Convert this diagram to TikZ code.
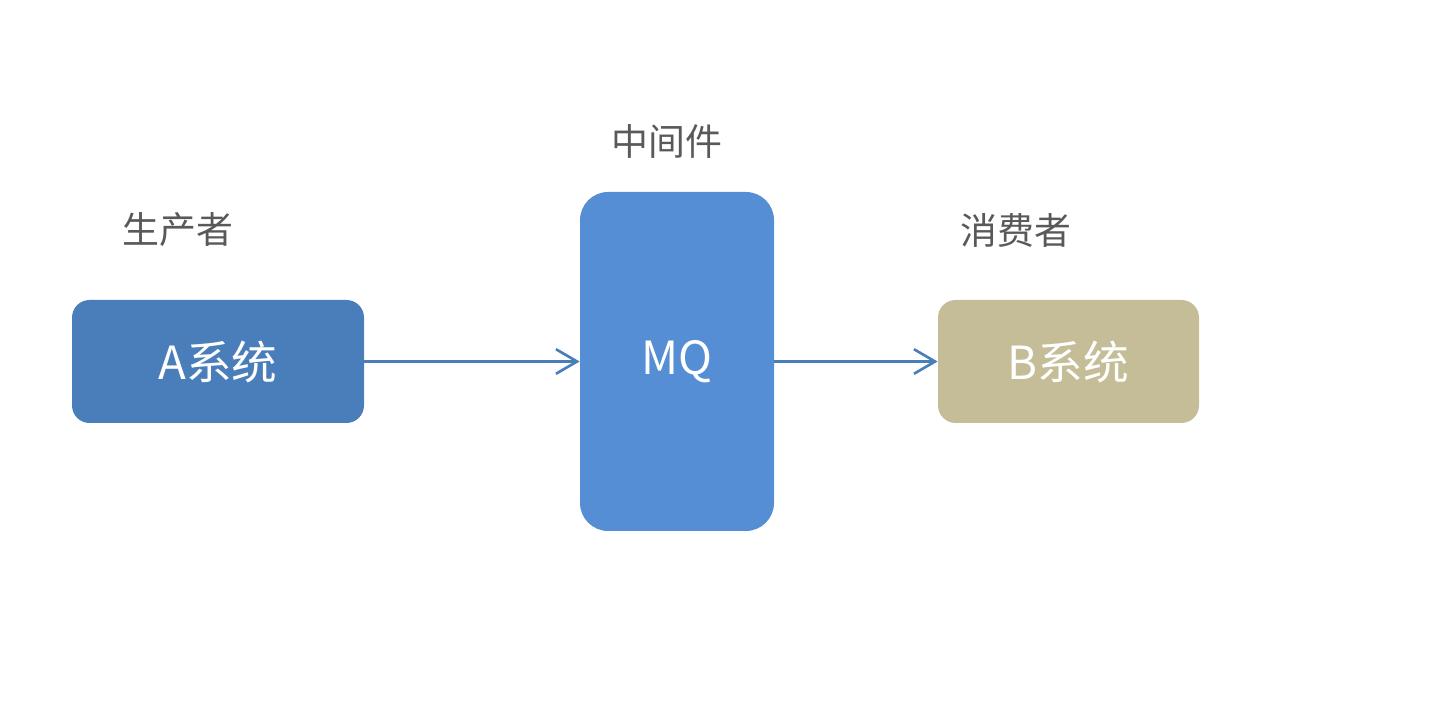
\documentclass[tikz,border=0pt]{standalone}
\usepackage{fontspec}
\setmainfont{Noto Sans CJK SC}
\usepackage{xcolor}
\definecolor{sysblue}{HTML}{4A7EBB}
\definecolor{mqblue}{HTML}{558ED5}
\definecolor{systan}{HTML}{C4BD97}
\definecolor{labelgray}{HTML}{595959}
\usetikzlibrary{arrows.meta,positioning}
\tikzset{
  sysnode/.style={
    rectangle, rounded corners=10pt, draw=none,
    text=white, align=center, inner sep=0pt,
    font=\fontsize{26}{30}\selectfont
  },
  rolelabel/.style={text=labelgray, inner sep=0pt, font=\fontsize{21}{25}\selectfont},
  arrow/.style={-{Straight Barb[length=12pt,width=14pt,line width=1.5pt]}, line width=1.5pt, draw=sysblue}
}

\begin{document}
\begin{tikzpicture}[x=0.02cm,y=0.02cm]
  \useasboundingbox (0,0) rectangle (1450,706);

  \node[sysnode, fill=sysblue, minimum width=292*0.02cm, minimum height=123*0.02cm] (asys) at (218,344.5) {A系统};
  \node[sysnode, fill=mqblue, rounded corners=16pt, minimum width=194*0.02cm, minimum height=339*0.02cm] (mq) at (677,344.5) {MQ};
  \node[sysnode, fill=systan, minimum width=261*0.02cm, minimum height=123*0.02cm] (bsys) at (1068.5,344.5) {B系统};

  \node[rolelabel] (producer) at (178,476) {生产者};
  \node[rolelabel] (middleware) at (667,565) {中间件};
  \node[rolelabel] (consumer) at (1016,476) {消费者};

  \draw[arrow] (asys) -- (mq);
  \draw[arrow] (mq) -- (bsys);
\end{tikzpicture}
\end{document}
